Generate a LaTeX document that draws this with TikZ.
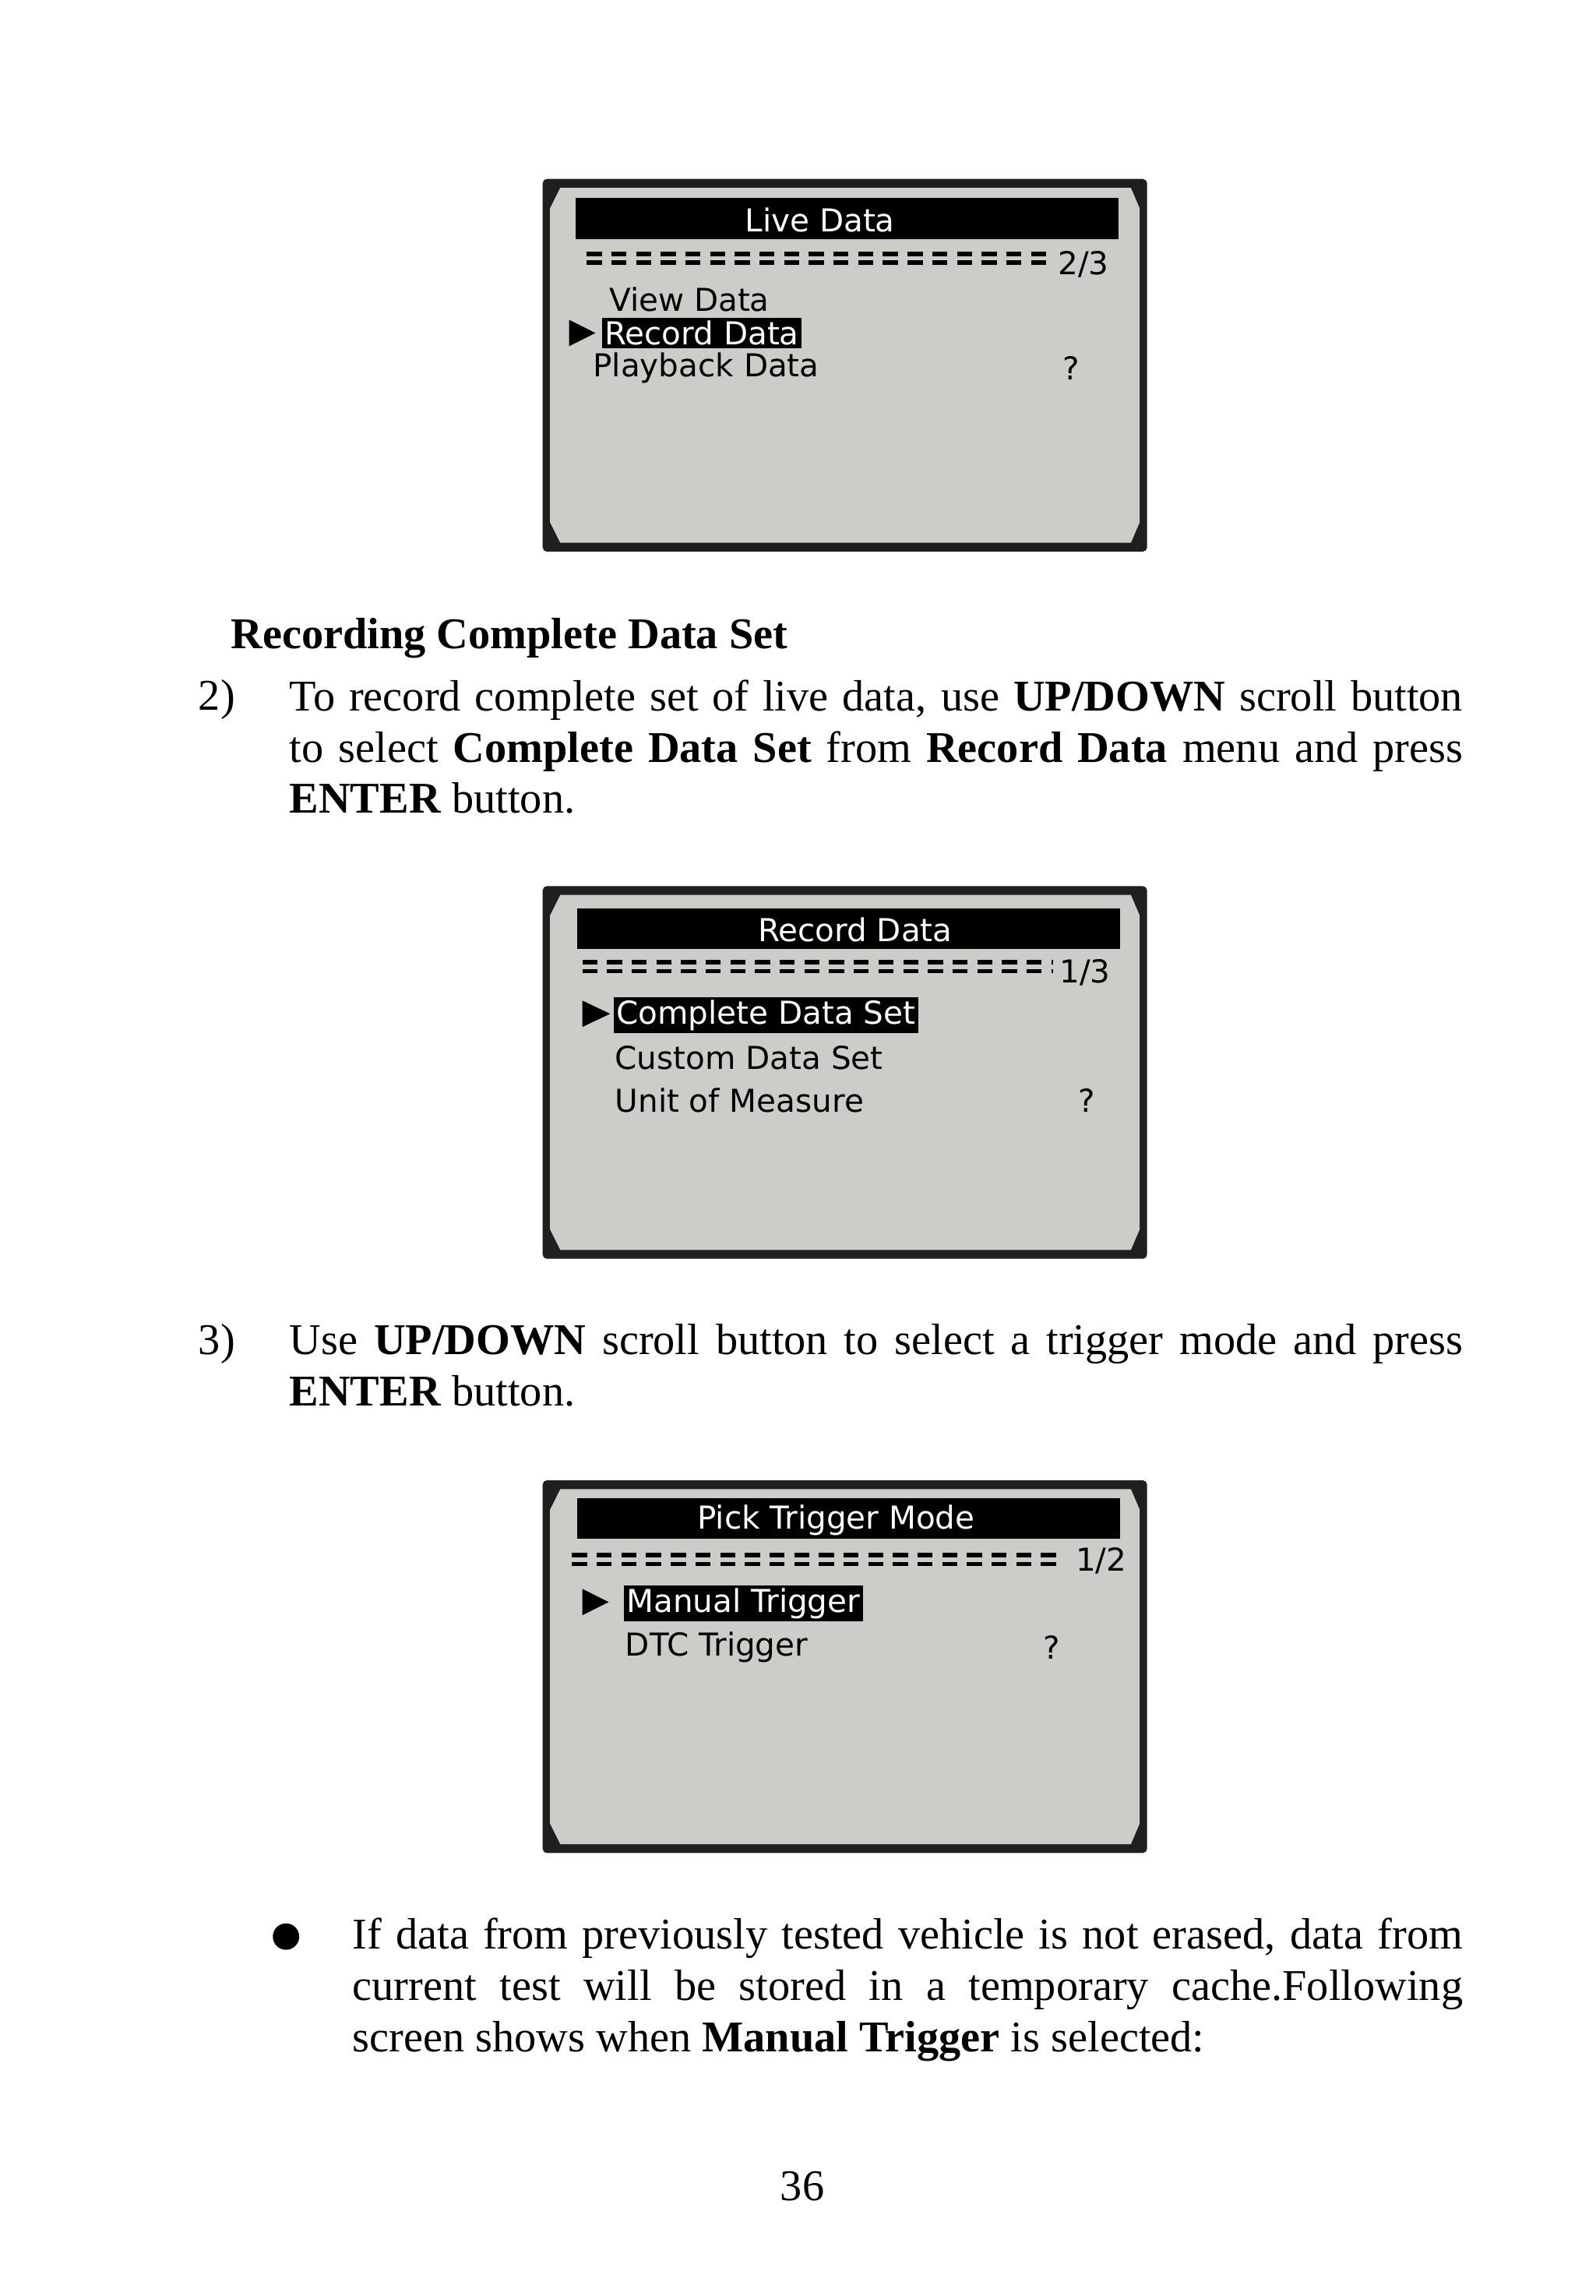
\documentclass[tikz,border=0pt]{standalone}
\usepackage{fontspec}
\setmainfont{Liberation Serif}
\newfontfamily\lcd{DejaVu Sans}
\hyphenpenalty=10000
\begin{document}
\begin{tikzpicture}[x=0.0188cm,y=-0.0188cm,
  bar/.style={fill=black,minimum width=370*0.0188cm,minimum height=28*0.0188cm,inner sep=0pt},
  item/.style={anchor=west,font=\lcd\fontsize{11.5pt}{13pt}\selectfont,inner sep=0pt},
  hl/.style={item,fill=black,text=white,inner sep=1pt},
  dots/.style={line width=1.6pt,dash pattern=on 5.5pt off 3.5pt},
  body/.style={anchor=north west,font=\fontsize{16pt}{18.7pt}\selectfont,inner sep=0pt,align=justify},
  tri/.style={fill=black}]
\definecolor{lcdgray}{RGB}{206,204,201}
\useasboundingbox (0,0) rectangle (1088,1565);
\fill[white] (0,0) rectangle (1088,1565);
\foreach \t in {122,604,1009}{
  \fill[black!88,rounded corners=1.5pt] (370,\t) rectangle (782,\t+254);
  \fill[lcdgray] (382,\t+6) -- (771,\t+6) -- (777,\t+20) -- (777,\t+234) -- (771,\t+248) -- (382,\t+248) -- (375,\t+234) -- (375,\t+20) -- cycle;
}
% screen 1
\node[bar] (t1) at (577.5,149) {};
\node[item,anchor=center,text=white] (t1t) at (559,150) {Live Data};
\draw[dots] (400,173) -- (713,173);
\draw[dots] (400,179) -- (713,179);
\node[item] (p1) at (721,180) {2/3};
\node[item] (a1) at (415,204) {View Data};
\fill[tri] (388,218) -- (406,227) -- (388,236) -- cycle;
\node[hl] (b1) at (410,227) {Record Data};
\node[item] (c1) at (404,251) {Playback Data};
\node[item] (q1) at (724,251) {?};
% screen 2
\node[bar] (t2) at (578.5,633) {};
\node[item,anchor=center,text=white] (t2t) at (583,634) {Record Data};
\draw[dots] (397,656) -- (718,656);
\draw[dots] (397,662) -- (718,662);
\node[item] (p2) at (722,663) {1/3};
\fill[tri] (397,682) -- (416,691) -- (397,700) -- cycle;
\node[hl] (a2) at (418,692) {Complete Data Set};
\node[item] (b2) at (419,721) {Custom Data Set};
\node[item] (c2) at (419,750) {Unit of Measure};
\node[item] (q2) at (735,750) {?};
% screen 3
\node[bar] (t3) at (578.5,1035) {};
\node[item,anchor=center,text=white] (t3t) at (570,1036) {Pick Trigger Mode};
\draw[dots] (390,1060) -- (720,1060);
\draw[dots] (390,1066) -- (720,1066);
\node[item] (p3) at (733,1064) {1/2};
\fill[tri] (397,1083) -- (415,1092) -- (397,1101) -- cycle;
\node[hl] (a3) at (425,1093) {Manual Trigger};
\node[item] (b3) at (426,1123) {DTC Trigger};
\node[item] (q3) at (711,1123) {?};
% text
\node[body] (h) at (157,421) {\textbf{Recording Complete Data Set}};
\node[body] (n2) at (135,463) {2)};
\node[body,text width=800*0.0188cm] (s2) at (197,463) {To record complete set of live data, use \textbf{UP/DOWN} scroll button\linebreak to select \textbf{Complete Data Set} from \textbf{Record Data} menu and press\linebreak \textbf{ENTER} button.};
\node[body] (n3) at (135,902) {3)};
\node[body,text width=800*0.0188cm] (s3) at (197,902) {Use \textbf{UP/DOWN} scroll button to select a trigger mode and press\linebreak \textbf{ENTER} button.};
\fill (195,1320) circle (9);
\node[body,text width=757*0.0188cm] (s4) at (240,1307) {If data from previously tested vehicle is not erased, data from\linebreak current test will be stored in a temporary cache.Following\linebreak screen shows when \textbf{Manual Trigger} is selected:};
\node[body,anchor=center] (pg) at (547,1490) {36};
\end{tikzpicture}
\end{document}
